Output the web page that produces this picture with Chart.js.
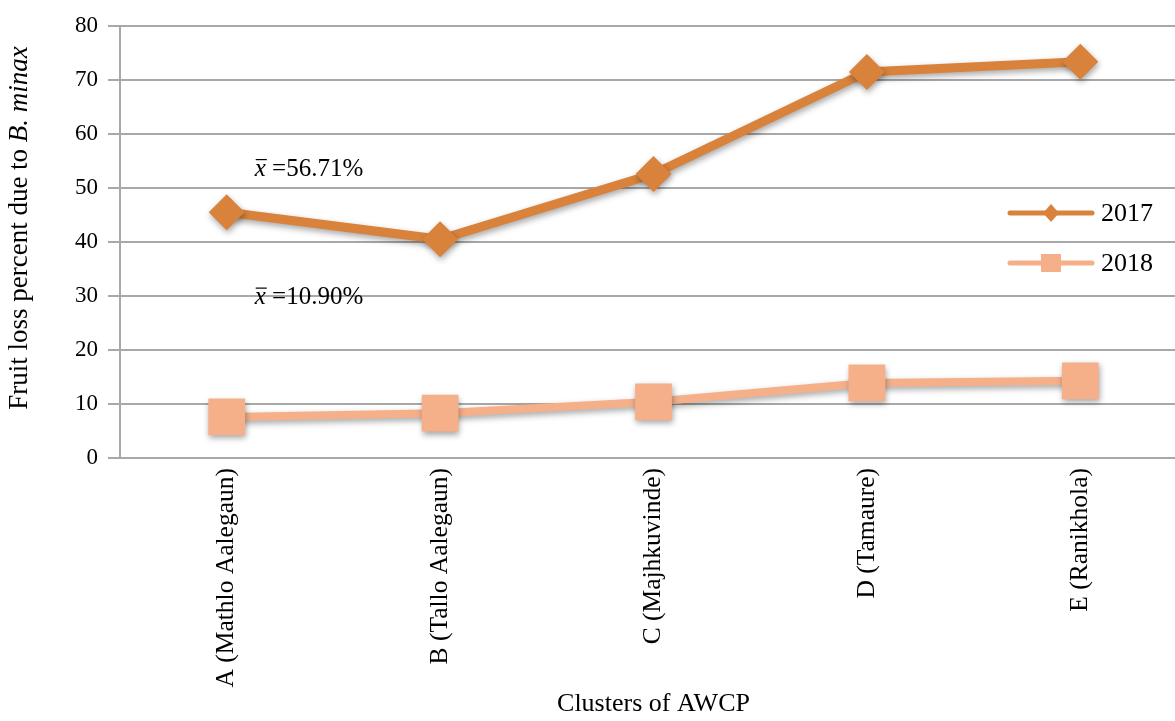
<!DOCTYPE html>
<html><head><meta charset="utf-8">
<script src="https://cdn.jsdelivr.net/npm/chart.js@4.4.0/dist/chart.umd.min.js"></script>
<style>
html,body{margin:0;padding:0;background:#fff;overflow:hidden;width:1175px;height:721px}
#wrap{position:absolute;left:0;top:0;width:1213px;height:721px}
</style></head><body><div id="wrap"><canvas id="c" width="1213" height="721"></canvas></div>
<script>
const categories = ['A (Mathlo Aalegaun)', 'B (Tallo Aalegaun)', 'C (Majhkuvinde)', 'D (Tamaure)', 'E (Ranikhola)'];
const seriesNames = ['2017', '2018'];
const values2017 = [45.5, 40.5, 52.6, 71.5, 73.4];
const values2018 = [7.6, 8.3, 10.4, 13.9, 14.3];
const meanTexts = ['=56.71%', '=10.90%'];
const meanAnchorValues = [53.5, 29.7];
const yMin = 0, yMax = 80, yStep = 10;
const xTitle = 'Clusters of AWCP';
const yTitleNormal = 'Fruit loss percent due to ';
const yTitleItalic = 'B. minax';

const SERIF = "'Liberation Serif', 'Times New Roman', serif";
const C2017 = '#D9823B';
const C2018 = '#F5B08A';
const GRID = '#a8a8a8';

const shadowPlugin = {
  id: 'shadow',
  beforeDatasetsDraw(chart) {
    const ctx = chart.ctx;
    ctx.save();
    ctx.shadowColor = 'rgba(0,0,0,0.35)';
    ctx.shadowBlur = 6;
    ctx.shadowOffsetX = 1;
    ctx.shadowOffsetY = 3;
  },
  afterDatasetsDraw(chart) { chart.ctx.restore(); }
};

const extrasPlugin = {
  id: 'extras',
  afterDraw(chart) {
    const ctx = chart.ctx;
    const ca = chart.chartArea;
    const xs = chart.scales.x, ys = chart.scales.y;
    ctx.save();
    // y title
    ctx.fillStyle = '#000';
    ctx.textBaseline = 'middle';
    ctx.font = '27px ' + SERIF;
    const w1 = ctx.measureText(yTitleNormal).width;
    ctx.font = 'italic 27px ' + SERIF;
    const w2 = ctx.measureText(yTitleItalic).width;
    const cy = (ca.top + ca.bottom) / 2 - 14;
    ctx.translate(20, cy);
    ctx.rotate(-Math.PI / 2);
    ctx.textAlign = 'left';
    ctx.font = '27px ' + SERIF;
    ctx.fillText(yTitleNormal, -(w1 + w2) / 2, 0);
    ctx.font = 'italic 27px ' + SERIF;
    ctx.fillText(yTitleItalic, -(w1 + w2) / 2 + w1, 0);
    ctx.restore();

    // mean annotations
    ctx.save();
    ctx.fillStyle = '#000';
    ctx.strokeStyle = '#000';
    ctx.textBaseline = 'middle';
    ctx.textAlign = 'left';
    meanTexts.forEach((t, i) => {
      const x0 = xs.getPixelForValue(0) + 28;
      const y0 = ys.getPixelForValue(meanAnchorValues[i]);
      ctx.font = 'italic 25px ' + SERIF;
      ctx.fillText('x', x0, y0);
      const wx = ctx.measureText('x').width;
      ctx.lineWidth = 1.2;
      ctx.beginPath();
      ctx.moveTo(x0 + 1, y0 - 9.5);
      ctx.lineTo(x0 + wx + 1, y0 - 9.5);
      ctx.stroke();
      ctx.font = '25px ' + SERIF;
      ctx.fillText(' ' + t, x0 + wx, y0);
    });
    ctx.restore();

    // legend
    ctx.save();
    const lx0 = ca.right - 177, lx1 = ca.right - 95, lcx = (lx0 + lx1) / 2;
    const lys = [213, 263];
    const cols = [C2017, C2018];
    seriesNames.forEach((n, i) => {
      const y = lys[i];
      ctx.strokeStyle = cols[i];
      ctx.fillStyle = cols[i];
      ctx.lineWidth = 5;
      ctx.lineCap = 'round';
      ctx.beginPath();
      ctx.moveTo(lx0, y); ctx.lineTo(lx1, y); ctx.stroke();
      ctx.beginPath();
      if (i === 0) {
        ctx.moveTo(lcx - 8, y); ctx.lineTo(lcx, y - 9); ctx.lineTo(lcx + 8, y); ctx.lineTo(lcx, y + 9); ctx.closePath();
      } else {
        ctx.rect(lcx - 10, y - 9, 20, 18);
      }
      ctx.fill();
      ctx.fillStyle = '#000';
      ctx.font = '26px ' + SERIF;
      ctx.textBaseline = 'middle';
      ctx.textAlign = 'left';
      ctx.fillText(n, lx1 + 9, y + 1);
    });
    ctx.restore();
  }
};

new Chart(document.getElementById('c'), {
  type: 'line',
  data: {
    labels: categories,
    datasets: [
      {
        label: seriesNames[0], data: values2017,
        borderColor: C2017, backgroundColor: C2017, borderWidth: 9,
        pointStyle: 'rectRot', pointRadius: 18, pointHoverRadius: 18,
        pointBackgroundColor: C2017, pointBorderColor: C2017, pointBorderWidth: 0,
        tension: 0, fill: false
      },
      {
        label: seriesNames[1], data: values2018,
        borderColor: C2018, backgroundColor: C2018, borderWidth: 8,
        pointStyle: 'rect', pointRadius: 26, pointHoverRadius: 26,
        pointBackgroundColor: C2018, pointBorderColor: C2018, pointBorderWidth: 0,
        tension: 0, fill: false
      }
    ]
  },
  options: {
    responsive: false,
    animation: false,
    devicePixelRatio: 1,
    layout: { padding: { top: 24, left: 0, right: 0, bottom: 0 } },
    plugins: { legend: { display: false }, tooltip: { enabled: false } },
    scales: {
      x: {
        type: 'category',
        offset: true,
        grid: { display: false, drawTicks: false },
        border: { display: true, color: GRID, width: 2 },
        ticks: {
          color: '#000', font: { family: SERIF, size: 25.5 },
          minRotation: 90, maxRotation: 90, padding: 10, autoSkip: false
        },
        title: { display: true, text: xTitle, color: '#000', font: { family: SERIF, size: 26 }, padding: { top: 0, bottom: 1 } },
        afterFit(scale) { scale.height = 263; }
      },
      y: {
        min: yMin, max: yMax,
        ticks: { stepSize: yStep, color: '#000', font: { family: SERIF, size: 23 }, padding: 10 },
        grid: { color: GRID, lineWidth: 2, tickLength: 12, drawTicks: true },
        border: { display: true, color: GRID, width: 2 },
        afterFit(scale) { scale.width = 120; }
      }
    }
  },
  plugins: [shadowPlugin, extrasPlugin]
});
</script></body></html>
